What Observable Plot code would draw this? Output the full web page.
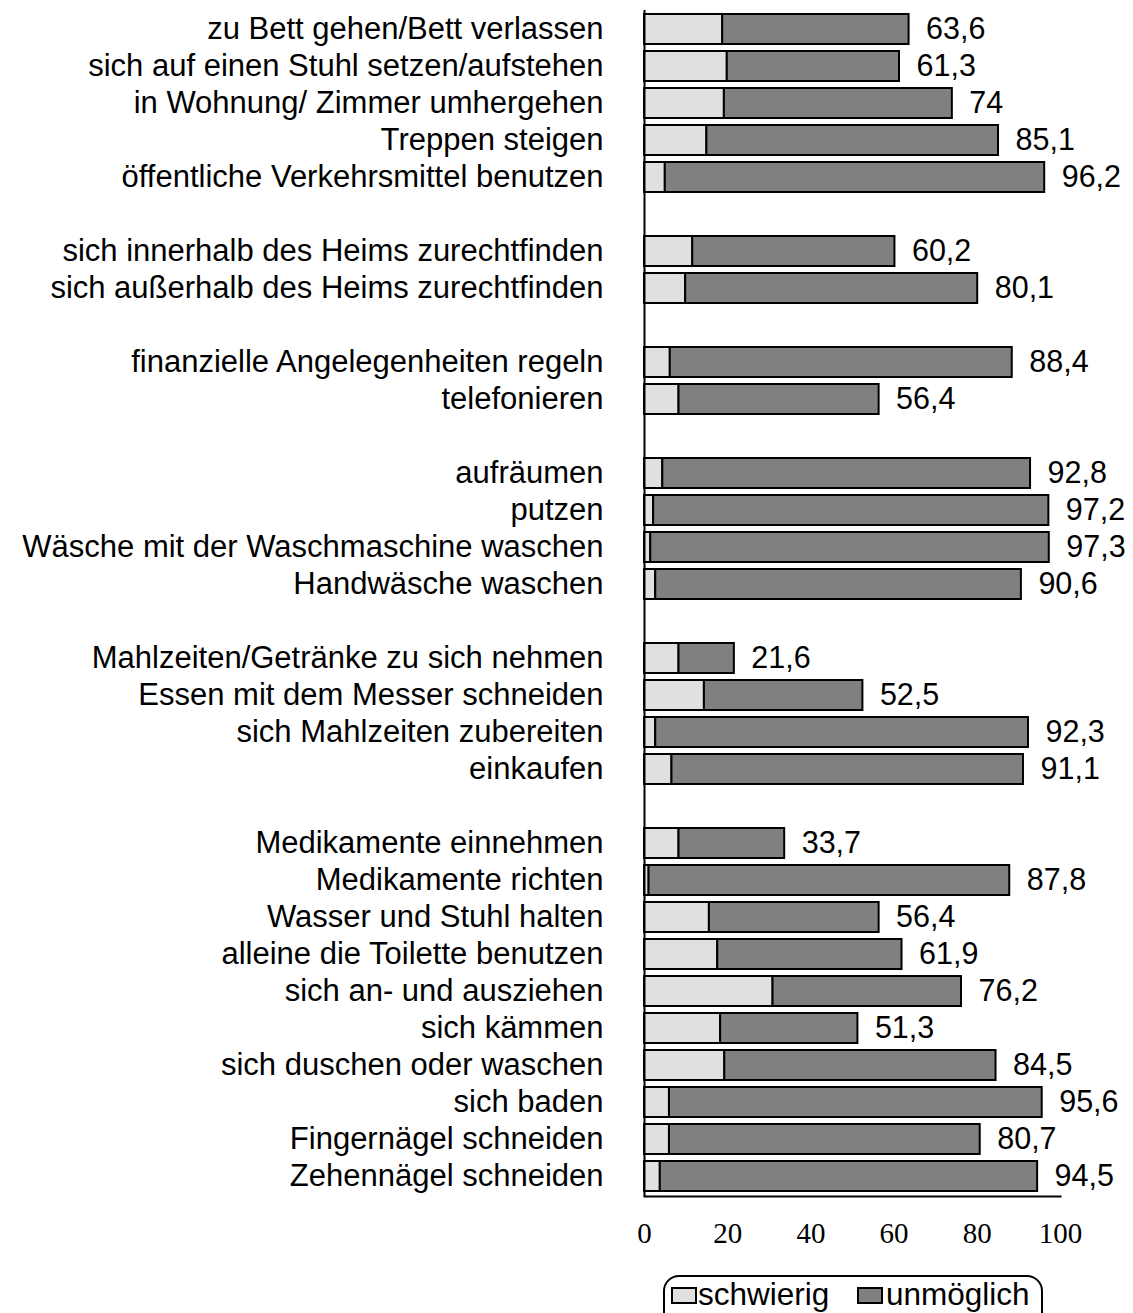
<!DOCTYPE html>
<html>
<head>
<meta charset="utf-8">
<script src="https://cdn.jsdelivr.net/npm/d3@7"></script>
<script src="https://cdn.jsdelivr.net/npm/@observablehq/plot@0.6"></script>
<style>
  body { margin: 0; background: #fff; }
  #legend { position: relative; width: 1133px; height: 53px; font-family: "Liberation Sans", Arial, sans-serif; font-size: 31.5px; color: #000; }
  #legend .box { position: absolute; left: 663px; top: 15px; width: 380px; height: 70px; border: 2px solid #000; border-radius: 16px; box-sizing: border-box; }
  #legend .sw { position: absolute; top: 27px; width: 26px; height: 17px; border: 2px solid #000; box-sizing: border-box; }
  #legend .lb { position: absolute; top: 19px; line-height: 30px; white-space: nowrap; }
</style>
</head>
<body>
<div id="chart"></div>
<div id="legend"></div>
<script>
// Aktivitäten (von oben nach unten)
const aktivitaeten = [
  "zu Bett gehen/Bett verlassen",
  "sich auf einen Stuhl setzen/aufstehen",
  "in Wohnung/ Zimmer umhergehen",
  "Treppen steigen",
  "öffentliche Verkehrsmittel benutzen",
  "sich innerhalb des Heims zurechtfinden",
  "sich außerhalb des Heims zurechtfinden",
  "finanzielle Angelegenheiten regeln",
  "telefonieren",
  "aufräumen",
  "putzen",
  "Wäsche mit der Waschmaschine waschen",
  "Handwäsche waschen",
  "Mahlzeiten/Getränke zu sich nehmen",
  "Essen mit dem Messer schneiden",
  "sich Mahlzeiten zubereiten",
  "einkaufen",
  "Medikamente einnehmen",
  "Medikamente richten",
  "Wasser und Stuhl halten",
  "alleine die Toilette benutzen",
  "sich an- und ausziehen",
  "sich kämmen",
  "sich duschen oder waschen",
  "sich baden",
  "Fingernägel schneiden",
  "Zehennägel schneiden"
];
// Gruppengrößen (Leerzeile zwischen Gruppen)
const gruppenGroessen = [5, 2, 2, 4, 4, 10];
// Anteil "schwierig" (%)
const schwierig = [18.8, 19.9, 19.2, 15.0, 5.0, 11.6, 9.9, 6.2, 8.3, 4.4, 2.2, 1.5, 2.7, 8.3, 14.4, 2.7, 6.6, 8.3, 1.1, 15.6, 17.6, 30.9, 18.3, 19.3, 6.0, 6.0, 3.8];
// Gesamt (schwierig + unmöglich, %) – Beschriftung am Balkenende
const gesamt = [63.6, 61.3, 74, 85.1, 96.2, 60.2, 80.1, 88.4, 56.4, 92.8, 97.2, 97.3, 90.6, 21.6, 52.5, 92.3, 91.1, 33.7, 87.8, 56.4, 61.9, 76.2, 51.3, 84.5, 95.6, 80.7, 94.5];
const xTicks = [0, 20, 40, 60, 80, 100];
const legendeLabels = ["schwierig", "unmöglich"];
const farben = ["#e0e0e0", "#808080"];

const rows = aktivitaeten.map((a, i) => ({key: a, schwierig: schwierig[i], gesamt: gesamt[i]}));
const keys = [];
let idx = 0;
gruppenGroessen.forEach((n, g) => {
  if (g > 0) keys.push("__gap" + g);
  for (let k = 0; k < n; k++) keys.push(aktivitaeten[idx++]);
});
const fmt = v => String(v).replace(".", ",");
const sans = "Liberation Sans, Arial, Helvetica, sans-serif";
const serif = "Liberation Serif, Times New Roman, serif";

const chart = Plot.plot({
  width: 1133,
  height: 1260,
  marginLeft: 644,
  marginRight: 73,
  marginTop: 10,
  marginBottom: 64,
  x: {domain: [0, 100]},
  y: {domain: keys, paddingInner: 0.18, paddingOuter: 0.09},
  marks: [
    Plot.barX(rows, {y: "key", x1: 0, x2: "schwierig", fill: farben[0], stroke: "black", strokeWidth: 2}),
    Plot.barX(rows, {y: "key", x1: "schwierig", x2: "gesamt", fill: farben[1], stroke: "black", strokeWidth: 2}),
    Plot.text(rows, {y: "key", x: "gesamt", text: d => fmt(d.gesamt), textAnchor: "start", dx: 17, fontSize: 30.5, fontFamily: sans, fill: "black"}),
    Plot.ruleX([0], {stroke: "black", strokeWidth: 2}),
    Plot.frame({anchor: "bottom", stroke: "black", strokeWidth: 2}),
    Plot.axisY({tickSize: 0, tickPadding: 41, fontSize: 31, fontFamily: sans, fill: "black", label: null,
      tickFormat: d => d.startsWith("__gap") ? "" : d}),
    Plot.axisX({ticks: xTicks, tickSize: 0, tickPadding: 26, fontSize: 29, fontFamily: serif, fill: "black", label: null})
  ]
});
document.getElementById("chart").appendChild(chart);

const leg = document.getElementById("legend");
leg.innerHTML = `
  <div class="box"></div>
  <div class="sw" style="left:671px;background:${farben[0]}"></div>
  <div class="lb" style="left:698px">${legendeLabels[0]}</div>
  <div class="sw" style="left:857px;background:${farben[1]}"></div>
  <div class="lb" style="left:886px">${legendeLabels[1]}</div>`;
</script>
</body>
</html>
